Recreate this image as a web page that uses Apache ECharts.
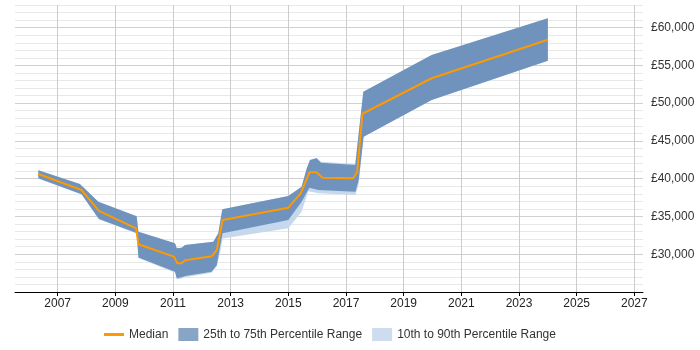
<!DOCTYPE html>
<html>
<head>
<meta charset="utf-8">
<script src="https://cdn.jsdelivr.net/npm/echarts@6/dist/echarts.min.js"></script>
<style>
html,body{margin:0;padding:0;background:#fff;}
#chart{width:700px;height:350px;}
</style>
</head>
<body>
<div id="chart"></div>
<script>
// Tick labels
var xTickYears = [2007, 2009, 2011, 2013, 2015, 2017, 2019, 2021, 2023, 2025, 2027];
var yTickValues = [30000, 35000, 40000, 45000, 50000, 55000, 60000];

// Median
var medianYears = [2006.33, 2007.83, 2008.43, 2009.72, 2009.80, 2011.03, 2011.15, 2011.30, 2011.42, 2012.34, 2012.52, 2012.72, 2015.00, 2015.43, 2015.73, 2015.98, 2016.18, 2017.25, 2017.39, 2017.57, 2019.97, 2024.00];
var medianValues = [40620, 38500, 35730, 33430, 31320, 29680, 28800, 28800, 29200, 29730, 30560, 34530, 36160, 38070, 40850, 40850, 40140, 40060, 40930, 48600, 53300, 58400];

// 75th percentile
var p75Years = [2006.33, 2007.77, 2008.41, 2009.74, 2009.80, 2011.07, 2011.13, 2011.30, 2011.42, 2012.40, 2012.57, 2012.71, 2015.00, 2015.46, 2015.64, 2015.75, 2015.98, 2016.13, 2017.32, 2017.60, 2019.97, 2024.00];
var p75Values = [41110, 39300, 36960, 35030, 32990, 31450, 30790, 30870, 31220, 31660, 32770, 35950, 37710, 38940, 41380, 42480, 42700, 42120, 41820, 51520, 56380, 61240];

// 25th percentile
var p25Years = [2006.33, 2007.83, 2008.43, 2009.74, 2009.80, 2011.07, 2011.13, 2011.30, 2011.42, 2012.34, 2012.52, 2012.63, 2012.72, 2015.00, 2015.46, 2015.73, 2016.04, 2017.33, 2017.44, 2017.61, 2019.97, 2024.00];
var p25Values = [40050, 37940, 34670, 32810, 29560, 27690, 26820, 26950, 27120, 27690, 28580, 31000, 32770, 34530, 36960, 38800, 38500, 38280, 39830, 45560, 50420, 55630];

// 90th percentile
var p90Years = [2006.33, 2007.77, 2008.41, 2009.74, 2009.80, 2011.07, 2011.13, 2011.30, 2011.42, 2012.40, 2012.57, 2012.71, 2015.00, 2015.46, 2015.64, 2015.75, 2015.98, 2016.13, 2017.32, 2017.60, 2019.97, 2024.00];
var p90Values = [41110, 39300, 36960, 35030, 32990, 31450, 30790, 30870, 31220, 31660, 32770, 35950, 37710, 38940, 41380, 42480, 42780, 42230, 41950, 51520, 56380, 61240];

// 10th percentile
var p10Years = [2006.33, 2007.83, 2008.43, 2009.74, 2009.80, 2011.07, 2011.13, 2011.30, 2011.42, 2012.34, 2012.52, 2012.65, 2012.72, 2015.00, 2015.46, 2015.69, 2016.04, 2017.33, 2017.44, 2017.61, 2019.97, 2024.00];
var p10Values = [40000, 37900, 34630, 32750, 29500, 27550, 26700, 26800, 26950, 27550, 28400, 30500, 32100, 33430, 35630, 38350, 38060, 37850, 39300, 45560, 50420, 55630];

function bandSeries(name, upX, upY, loX, loY, color) {
  return {
    type: 'custom',
    name: name,
    coordinateSystem: 'cartesian2d',
    silent: true,
    clip: true,
    data: [[upX[0], upY[0]]],
    encode: { x: 0, y: 1 },
    renderItem: function (params, api) {
      var pts = [];
      for (var i = 0; i < upX.length; i++) pts.push(api.coord([upX[i], upY[i]]));
      for (var j = loX.length - 1; j >= 0; j--) pts.push(api.coord([loX[j], loY[j]]));
      return { type: 'polygon', shape: { points: pts }, style: { fill: color, stroke: null } };
    }
  };
}

var medianData = medianYears.map(function (y, i) { return [y, medianValues[i]]; });

var font = 'Liberation Sans, Arial, sans-serif';
var chart = echarts.init(document.getElementById('chart'), null, { renderer: 'canvas' });
chart.setOption({
  animation: false,
  backgroundColor: '#ffffff',
  grid: { left: 15, right: 57, top: 5, bottom: 58, containLabel: false },
  xAxis: {
    type: 'value',
    min: 2005.52,
    max: 2027.3,
    axisLine: { show: true, onZero: false, lineStyle: { color: '#000', width: 1 } },
    axisTick: { show: true, length: 4, lineStyle: { color: '#000' }, customValues: xTickYears },
    axisLabel: { customValues: xTickYears, color: '#222', fontSize: 12, fontFamily: font, margin: 6,
      formatter: function (v) { return String(v); } },
    splitLine: { show: true, lineStyle: { color: '#cccccc', width: 1 } }
  },
  yAxis: {
    type: 'value',
    position: 'right',
    min: 25000,
    max: 63000,
    interval: 1000,
    axisLine: { show: false },
    axisTick: { show: false },
    axisLabel: { customValues: yTickValues, color: '#333', fontSize: 12, fontFamily: font, margin: 8,
      formatter: function (v) { return '£' + v.toString().replace(/\B(?=(\d{3})+(?!\d))/g, ','); } },
    splitLine: { show: true, lineStyle: { color: ['#d0d0d0', '#e8e8e8', '#e8e8e8', '#e8e8e8', '#e8e8e8'], width: 1 } }
  },
  legend: {
    bottom: 4,
    left: 99,
    itemWidth: 20,
    itemHeight: 13,
    itemGap: 10,
    selectedMode: false,
    textStyle: { fontFamily: font, fontSize: 12, color: '#333' },
    data: [
      { name: 'Median', icon: 'path://M0,0 H20 V3 H0 Z', itemStyle: { color: '#ff9900' } },
      { name: '25th to 75th Percentile Range', icon: 'rect', itemStyle: { color: '#88a5c6' } },
      { name: '10th to 90th Percentile Range', icon: 'rect', itemStyle: { color: '#cddcee' } }
    ]
  },
  series: [
    bandSeries('10th to 90th Percentile Range', p90Years, p90Values, p10Years, p10Values, '#c6d8ed'),
    bandSeries('25th to 75th Percentile Range', p75Years, p75Values, p25Years, p25Values, '#6f93bc'),
    {
      type: 'line',
      name: 'Median',
      data: medianData,
      showSymbol: false,
      symbol: 'none',
      lineStyle: { color: '#ff9900', width: 2 },
      itemStyle: { color: '#ff9900' },
      z: 5
    }
  ]
});
</script>
</body>
</html>
